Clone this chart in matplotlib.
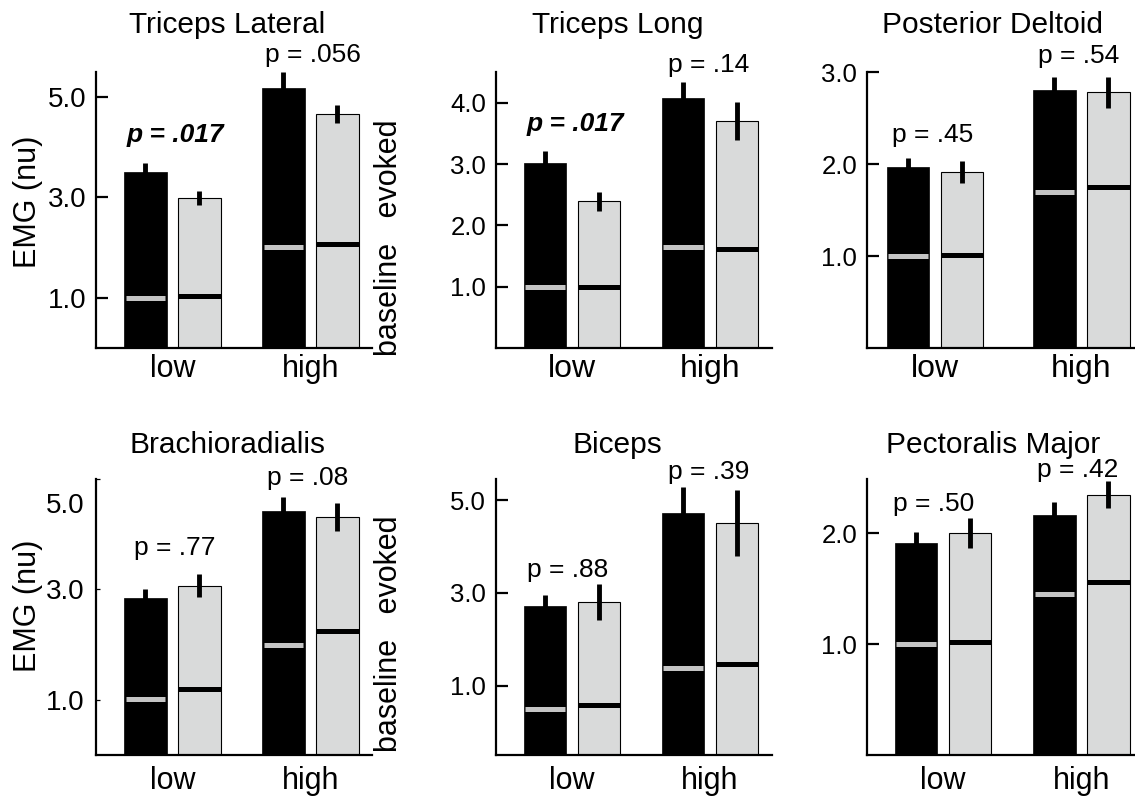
import matplotlib
matplotlib.use("Agg")
import matplotlib.pyplot as plt

plt.rcParams['font.family'] = ['Liberation Sans', 'DejaVu Sans']

###########################################
# data
###########################################

muscles = ["Triceps Lateral", "Triceps Long", "Posterior Deltoid",
           "Brachioradialis", "Biceps", "Pectoralis Major"]
groups = ["low", "high"]

# evoked EMG, [low, high] per muscle
black_evoked = [[3.50, 5.18], [3.01, 4.08], [1.97, 2.80],
                [2.85, 4.42], [2.72, 4.72], [1.91, 2.165]]
gray_evoked = [[2.99, 4.65], [2.39, 3.70], [1.91, 2.78],
               [3.07, 4.31], [2.81, 4.51], [2.00, 2.35]]

# error bars
black_err = [[0.18, 0.31], [0.20, 0.25], [0.09, 0.15],
             [0.16, 0.25], [0.24, 0.56], [0.10, 0.115]]
gray_err = [[0.14, 0.18], [0.16, 0.31], [0.12, 0.17],
            [0.20, 0.26], [0.385, 0.71], [0.135, 0.12]]

# baseline EMG
black_base = [[1.00, 2.01], [1.00, 1.65], [1.00, 1.70],
              [1.01, 1.99], [0.50, 1.38], [1.00, 1.45]]
gray_base = [[1.03, 2.07], [0.99, 1.62], [1.01, 1.75],
             [1.20, 2.25], [0.58, 1.47], [1.02, 1.56]]

p_low = ["p = .017", "p = .017", "p = .45", "p = .77", "p = .88", "p = .50"]
p_high = ["p = .056", "p = .14", "p = .54", "p = .08", "p = .39", "p = .42"]
p_low_bold = [True, True, False, False, False, False]

y_ticks = [[1, 3, 5], [1, 2, 3, 4], [1, 2, 3], [1, 3, 5], [1, 3, 5], [1, 2]]

###########################################
# layout
###########################################

W, H = 1135, 796
AX_W = 276
ax_left = [96, 496, 867, 96, 496, 867]
ax_top = [72, 72, 72, 479, 479, 479]
ax_bot = [348, 348, 348, 755, 755, 755]
ylims = [(0, 5.49), (0, 4.5), (0, 3.0), (0, 5.0), (-0.5, 5.46), (0, 2.49)]
group_x = [[1.415, 3.97], [1.41, 3.96], [1.26, 3.97],
           [1.415, 3.97], [1.41, 3.96], [1.41, 3.97]]
p_low_pos = [(1.46, 4.23), (1.46, 3.66), (1.22, 2.31), (1.46, 3.75), (1.33, 3.50), (1.23, 2.26)]
p_high_pos = [(4.02, 5.83), (3.93, 4.61), (3.91, 3.17), (3.91, 5.01), (3.93, 5.62), (3.91, 2.57)]
title_x = [131, 122, 126, 131, 121, 126]   # px from axis
ytick_size = [20, 18.5, 18.5, 20, 18.5, 18.5]
xtick_size = [22, 23, 23, 22, 22, 22]
xtick_pad = [4, 4, 4, 8, 8, 8]

bar_w = 0.79
offset = 0.5
gray_fill = "#d9dada"

fig = plt.figure(figsize=(W / 100, H / 100), dpi=100)

for i in range(6):
    l, t, b = ax_left[i], ax_top[i], ax_bot[i]
    ax = fig.add_axes([l / W, 1 - b / H, AX_W / W, (b - t) / H])
    y0 = ylims[i][0]

    xb = [g - offset for g in group_x[i]]
    xg = [g + offset for g in group_x[i]]

    # bars
    ax.bar(xb, [v - y0 for v in black_evoked[i]], bottom=y0, width=bar_w,
           color="black", edgecolor="black", linewidth=0.5, zorder=2)
    ax.bar(xg, [v - y0 for v in gray_evoked[i]], bottom=y0, width=bar_w,
           color=gray_fill, edgecolor="black", linewidth=0.8, zorder=2)

    # baseline marks
    ax.hlines(black_base[i], [x - bar_w / 2 + 0.03 for x in xb], [x + bar_w / 2 - 0.03 for x in xb],
              color="#c4c4c4", linewidth=3.6, zorder=3)
    ax.hlines(gray_base[i], [x - bar_w / 2 for x in xg], [x + bar_w / 2 for x in xg],
              color="black", linewidth=3.6, zorder=3)

    # error bars
    ax.errorbar(xb, black_evoked[i], yerr=black_err[i], fmt="none", ecolor="black",
                elinewidth=3.5, capsize=0, zorder=4, clip_on=False)
    ax.errorbar(xg, gray_evoked[i], yerr=gray_err[i], fmt="none", ecolor="black",
                elinewidth=3.5, capsize=0, zorder=4, clip_on=False)

    # p values
    ax.text(p_low_pos[i][0], p_low_pos[i][1], p_low[i], ha="center", va="center",
            fontsize=19, fontweight="bold" if p_low_bold[i] else "normal",
            style="italic" if p_low_bold[i] else "normal", clip_on=False)
    ax.text(p_high_pos[i][0], p_high_pos[i][1], p_high[i], ha="center", va="center",
            fontsize=19, clip_on=False)

    # axes styling
    ax.set_xlim(0, 5.11)
    ax.set_ylim(*ylims[i])
    for s in ["top", "right"]:
        ax.spines[s].set_visible(False)
    ax.spines["left"].set_linewidth(1.6)
    ax.spines["bottom"].set_linewidth(1.6)

    ax.set_xticks(group_x[i], groups)
    ax.tick_params(axis="x", length=0, labelsize=xtick_size[i], pad=xtick_pad[i])

    ax.set_yticks(y_ticks[i], ["%.1f" % v for v in y_ticks[i]])
    if i == 3:
        # in this panel the top label sits below its tick, and ticks are small
        ax.set_yticks(y_ticks[i], ["1.0", "3.0", ""])
        ax.set_yticks([4.56], ["5.0"], minor=True)
        ax.tick_params(axis="y", which="minor", length=0, labelsize=ytick_size[i], pad=8)
        ax.tick_params(axis="y", which="major", direction="in", length=3, width=0.9,
                       labelsize=ytick_size[i], pad=8)
    else:
        ax.tick_params(axis="y", direction="in", length=8.5, width=1.6,
                       labelsize=ytick_size[i], pad=7)

    # title
    fig.text((l + title_x[i]) / W, 1 - (t - (39 if t < 400 else 26)) / H, muscles[i],
             ha="center", va="baseline", fontsize=21.5)

# y labels on the left column
for yc, yb in [(202, 238), (606, 634)]:
    fig.text(28 / W, 1 - yc / H, "EMG (nu)", rotation=90, ha="center", va="center", fontsize=22)
    fig.text(389 / W, 1 - yb / H, "baseline   evoked", rotation=90, ha="center", va="center",
             fontsize=22)

fig.savefig("out.png", dpi=100)
